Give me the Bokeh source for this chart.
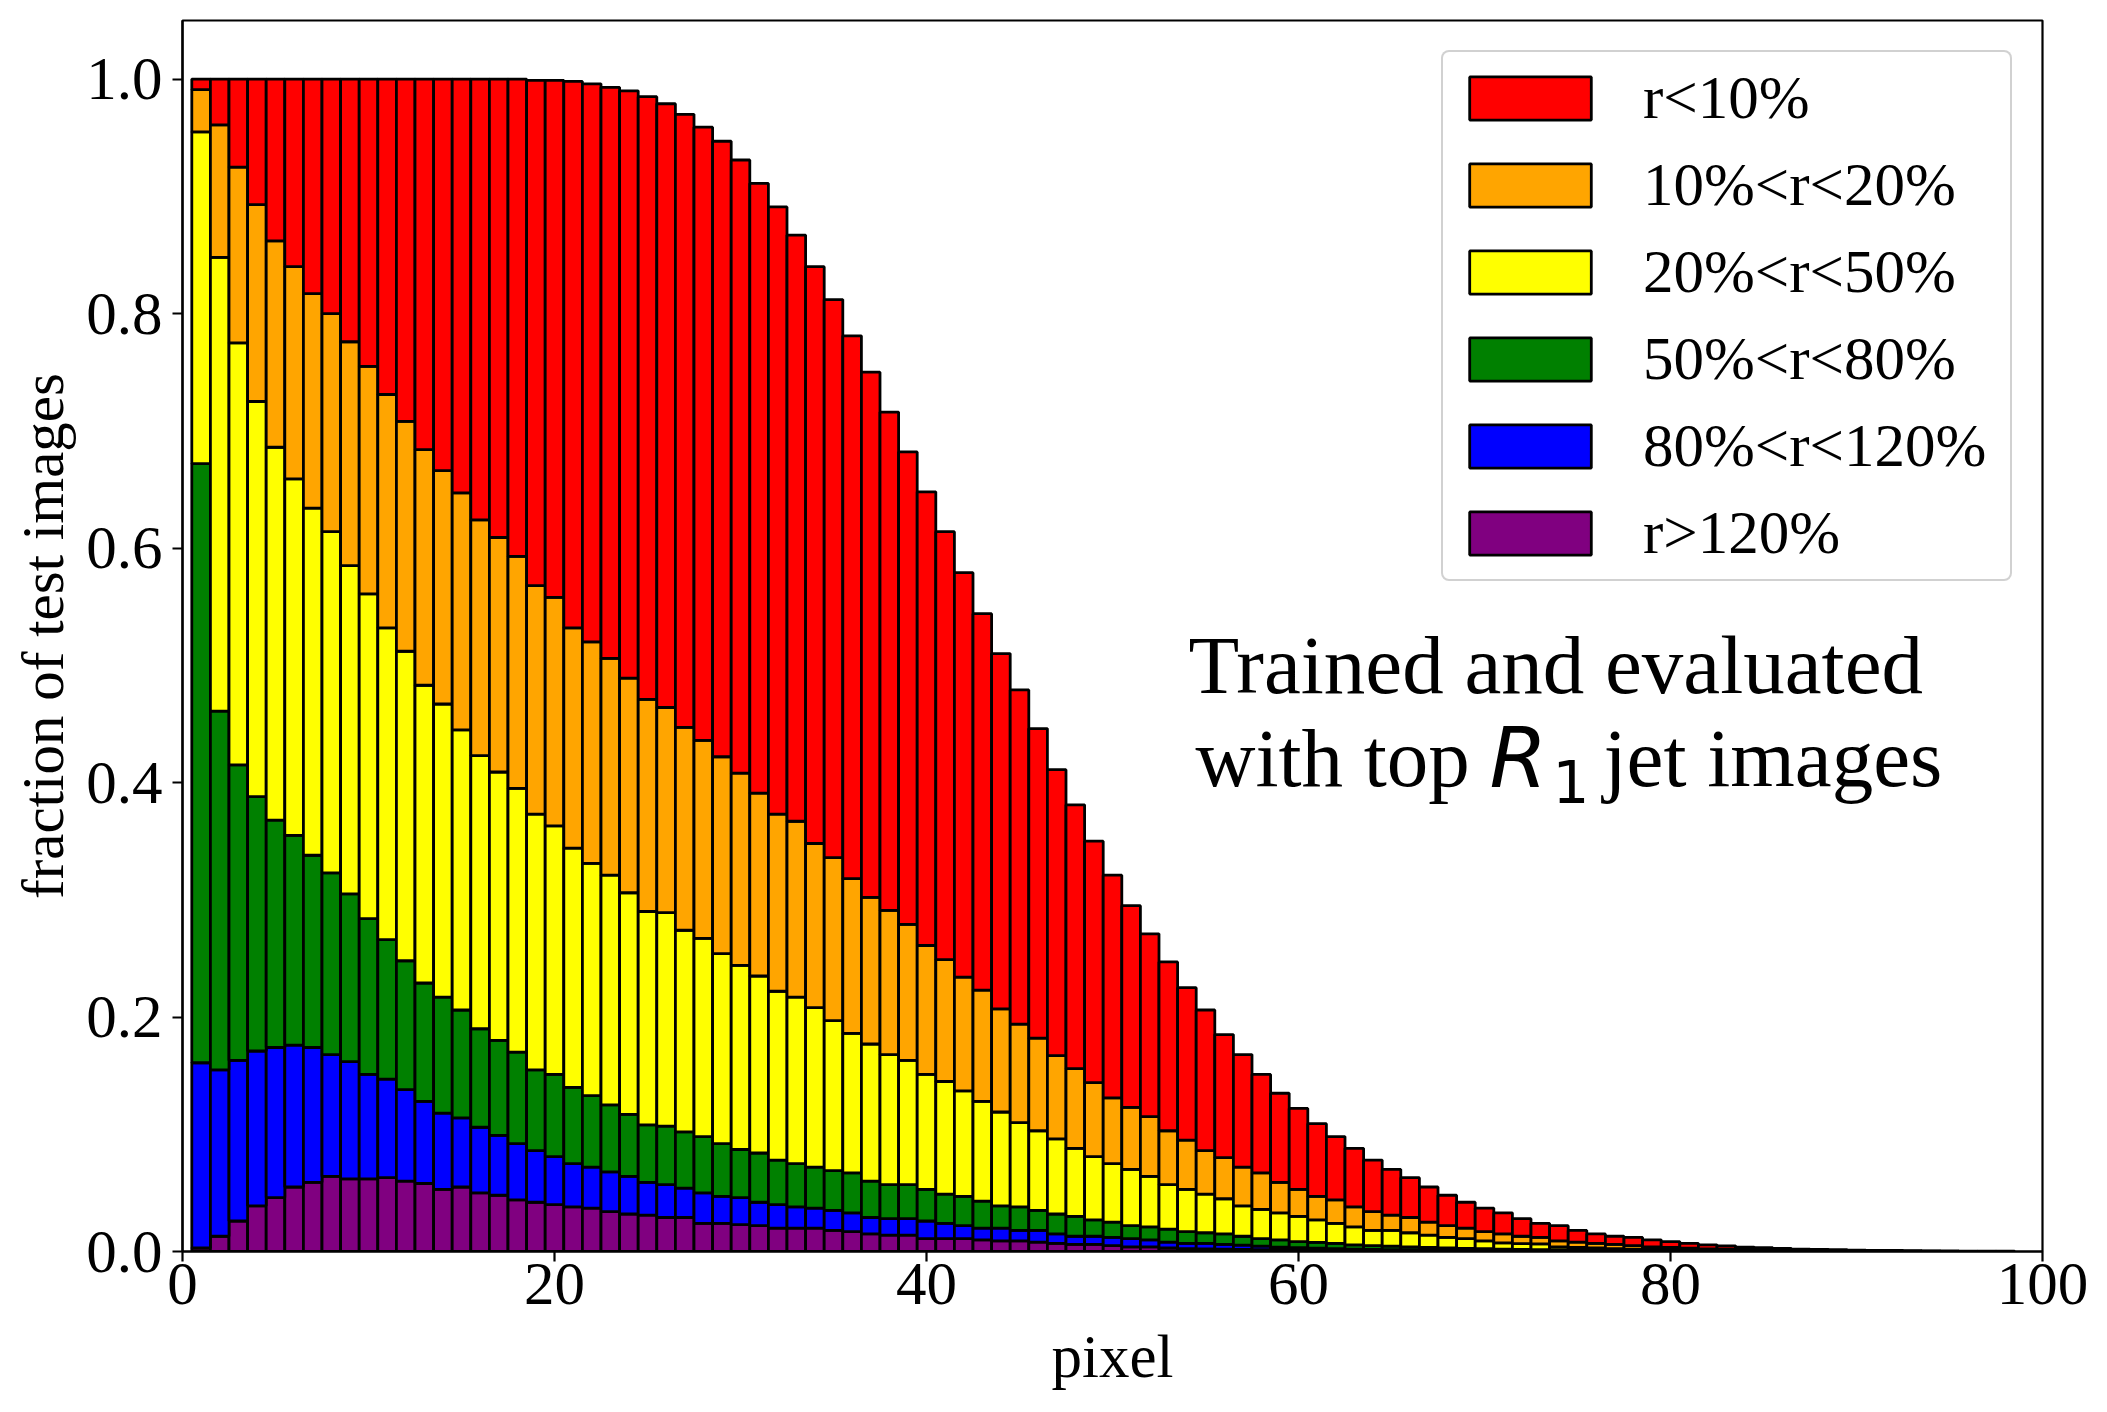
from bokeh.plotting import figure
from bokeh.models import (ColumnDataSource, Range1d, FixedTicker, PrintfTickFormatter,
                          Legend, LegendItem, Label)
from bokeh.embed import file_html
from bokeh.resources import INLINE

# pixel bins (bar centres)
pixel = list(range(1, 99))

# cumulative fraction of test images (stack tops) for each category
top_gt120 = [0.003, 0.013, 0.026, 0.039, 0.046, 0.055, 0.059, 0.064, 0.062, 0.062,
             0.063, 0.060, 0.058, 0.053, 0.055, 0.050, 0.048, 0.044, 0.042, 0.040,
             0.038, 0.037, 0.034, 0.032, 0.031, 0.029, 0.029, 0.024, 0.024, 0.023,
             0.022, 0.020, 0.020, 0.020, 0.018, 0.017, 0.015, 0.014, 0.014, 0.011,
             0.011, 0.011, 0.010, 0.009, 0.009, 0.008, 0.007, 0.006, 0.006, 0.005,
             0.004, 0.004, 0.003, 0.0025, 0.0022, 0.002, 0.0018, 0.0016, 0.0014, 0.0012,
             0.001, 0.0009, 0.0008, 0.0007, 0.0006, 0.0005, 0.0005, 0.0004, 0.0004, 0.0003,
             0.0003, 0.0002, 0.0002, 0.0002, 0.0001, 0.0001, 0.0001, 0.0001, 0.0001, 0.0,
             0, 0, 0, 0, 0, 0, 0, 0, 0, 0,
             0, 0, 0, 0, 0, 0, 0, 0]
top_80_120 = [0.161, 0.155, 0.163, 0.171, 0.174, 0.176, 0.174, 0.168, 0.162, 0.151,
              0.147, 0.138, 0.128, 0.118, 0.114, 0.106, 0.099, 0.092, 0.086, 0.081,
              0.075, 0.072, 0.068, 0.064, 0.059, 0.057, 0.054, 0.050, 0.047, 0.046,
              0.042, 0.040, 0.038, 0.037, 0.035, 0.033, 0.029, 0.028, 0.028, 0.026,
              0.024, 0.022, 0.020, 0.020, 0.018, 0.018, 0.015, 0.013, 0.013, 0.012,
              0.011, 0.010, 0.008, 0.007, 0.007, 0.006, 0.0055, 0.0045, 0.0038, 0.0032,
              0.0028, 0.0024, 0.002, 0.0018, 0.0015, 0.0013, 0.0011, 0.001, 0.0009, 0.0008,
              0.0007, 0.0006, 0.0005, 0.0005, 0.0004, 0.0003, 0.0003, 0.0002, 0.0002, 0.0002,
              0.0001, 0.0001, 0.0001, 0.0001, 0.0001, 0, 0, 0, 0, 0,
              0, 0, 0, 0, 0, 0, 0, 0]
top_50_80 = [0.672, 0.461, 0.415, 0.388, 0.368, 0.355, 0.338, 0.323, 0.305, 0.284,
             0.266, 0.248, 0.229, 0.217, 0.206, 0.190, 0.180, 0.170, 0.155, 0.151,
             0.140, 0.133, 0.125, 0.117, 0.108, 0.107, 0.102, 0.098, 0.092, 0.087,
             0.084, 0.078, 0.075, 0.072, 0.069, 0.067, 0.060, 0.057, 0.057, 0.053,
             0.049, 0.047, 0.043, 0.039, 0.038, 0.035, 0.032, 0.030, 0.027, 0.025,
             0.022, 0.021, 0.019, 0.017, 0.016, 0.015, 0.013, 0.011, 0.010, 0.0085,
             0.0077, 0.007, 0.0057, 0.005, 0.0045, 0.004, 0.0035, 0.003, 0.0027, 0.0024,
             0.002, 0.0018, 0.0016, 0.0014, 0.0012, 0.001, 0.0009, 0.0008, 0.0006, 0.0005,
             0.0004, 0.0004, 0.0003, 0.0003, 0.0002, 0.0002, 0.0001, 0.0001, 0.0001, 0.0001,
             0, 0, 0, 0, 0, 0, 0, 0]
top_20_50 = [0.955, 0.848, 0.775, 0.725, 0.686, 0.659, 0.634, 0.614, 0.585, 0.561,
             0.532, 0.512, 0.483, 0.467, 0.445, 0.423, 0.409, 0.395, 0.373, 0.363,
             0.344, 0.331, 0.321, 0.306, 0.290, 0.289, 0.274, 0.267, 0.254, 0.244,
             0.235, 0.222, 0.217, 0.208, 0.197, 0.186, 0.177, 0.168, 0.163, 0.151,
             0.145, 0.137, 0.128, 0.119, 0.110, 0.103, 0.096, 0.088, 0.081, 0.075,
             0.070, 0.064, 0.057, 0.053, 0.049, 0.045, 0.039, 0.036, 0.033, 0.030,
             0.027, 0.024, 0.021, 0.018, 0.018, 0.016, 0.014, 0.012, 0.011, 0.009,
             0.0074, 0.0068, 0.0065, 0.004, 0.0035, 0.003, 0.0025, 0.002, 0.0018, 0.0015,
             0.0012, 0.001, 0.0008, 0.0007, 0.0006, 0.0005, 0.0004, 0.0003, 0.0002, 0.0002,
             0.0001, 0.0001, 0.0001, 0, 0, 0, 0, 0]
top_10_20 = [0.991, 0.961, 0.925, 0.893, 0.862, 0.840, 0.817, 0.800, 0.776, 0.755,
             0.731, 0.708, 0.684, 0.666, 0.647, 0.624, 0.609, 0.593, 0.568, 0.558,
             0.532, 0.520, 0.506, 0.489, 0.471, 0.464, 0.447, 0.436, 0.422, 0.408,
             0.391, 0.373, 0.367, 0.348, 0.336, 0.318, 0.302, 0.291, 0.279, 0.261,
             0.249, 0.234, 0.223, 0.207, 0.194, 0.182, 0.167, 0.156, 0.144, 0.131,
             0.123, 0.115, 0.103, 0.095, 0.086, 0.080, 0.072, 0.067, 0.059, 0.053,
             0.047, 0.044, 0.038, 0.034, 0.031, 0.029, 0.025, 0.022, 0.020, 0.017,
             0.015, 0.013, 0.012, 0.009, 0.008, 0.007, 0.006, 0.005, 0.004, 0.0034,
             0.0028, 0.0023, 0.0019, 0.0015, 0.0013, 0.001, 0.0008, 0.0007, 0.0005, 0.0004,
             0.0003, 0.0003, 0.0002, 0.0002, 0.0001, 0.0001, 0.0001, 0]
top_lt10 = [1.0, 1.0, 1.0, 1.0, 1.0, 1.0, 1.0, 1.0, 1.0, 1.0,
            1.0, 1.0, 1.0, 1.0, 1.0, 1.0, 1.0, 1.0, 0.999, 0.999,
            0.998, 0.996, 0.993, 0.990, 0.985, 0.979, 0.970, 0.959, 0.947, 0.931,
            0.911, 0.891, 0.867, 0.840, 0.812, 0.781, 0.750, 0.716, 0.682, 0.648,
            0.614, 0.579, 0.544, 0.510, 0.479, 0.446, 0.411, 0.381, 0.350, 0.321,
            0.295, 0.271, 0.247, 0.225, 0.206, 0.185, 0.168, 0.151, 0.135, 0.122,
            0.109, 0.098, 0.088, 0.078, 0.070, 0.063, 0.055, 0.048, 0.042, 0.037,
            0.033, 0.028, 0.024, 0.022, 0.018, 0.015, 0.013, 0.012, 0.010, 0.0085,
            0.007, 0.0057, 0.0048, 0.0038, 0.0032, 0.0026, 0.0021, 0.0018, 0.0015, 0.0012,
            0.001, 0.0009, 0.0007, 0.0006, 0.0005, 0.0004, 0.0003, 0.0002]

labels = ["r<10%", "10%<r<20%", "20%<r<50%", "50%<r<80%", "80%<r<120%", "r>120%"]
colors = ["red", "orange", "yellow", "green", "blue", "purple"]
x_ticks = [0, 20, 40, 60, 80, 100]
y_ticks = [0.0, 0.2, 0.4, 0.6, 0.8, 1.0]

zeros = [0.0] * len(pixel)
src = ColumnDataSource(dict(x=pixel, z=zeros, p=top_gt120, b=top_80_120, g=top_50_80,
                            y=top_20_50, o=top_10_20, r=top_lt10))

SERIF = "Liberation Serif"
FS = "61px"

p = figure(width=2099, height=1404, output_backend="svg", toolbar_location=None,
           x_range=Range1d(0, 100), y_range=Range1d(0, 1.05),
           min_border_left=182, min_border_right=57, min_border_top=20, min_border_bottom=153)
p.background_fill_color = "white"
p.border_fill_color = "white"
p.grid.visible = False
p.outline_line_color = "black"
p.outline_line_width = 2.2

# stacked bars, drawn bottom to top
stack = [("z", "p", "purple"), ("p", "b", "blue"), ("b", "g", "green"),
         ("g", "y", "yellow"), ("y", "o", "orange"), ("o", "r", "red")]
rend = {}
for bot, top, col in stack:
    rend[col] = p.vbar(x="x", width=1.0, bottom=bot, top=top, source=src,
                       fill_color=col, line_color="black", line_width=2.8)

items = [LegendItem(label=lab, renderers=[rend[c]]) for lab, c in zip(labels, colors)]
leg = Legend(items=items, location="top_right", margin=30,
             label_text_font=SERIF, label_text_font_size=FS, label_text_color="black",
             glyph_width=152, glyph_height=54, label_standoff=37, label_width=356,
             spacing=17, padding=11,
             border_line_color="#cccccc", border_line_width=2.5, border_line_alpha=0.9,
             background_fill_color="white", background_fill_alpha=0.8)
if "border_radius" in Legend.properties():
    leg.border_radius = 8
p.add_layout(leg)

for ax in (p.xaxis, p.yaxis):
    ax.axis_line_width = 2.2
    ax.axis_line_color = "black"
    ax.major_tick_line_width = 2.2
    ax.major_tick_line_color = "black"
    ax.major_tick_out = 10
    ax.major_tick_in = 0
    ax.minor_tick_line_color = None
    ax.major_label_text_font = SERIF
    ax.major_label_text_font_size = FS
    ax.major_label_text_color = "black"
    ax.axis_label_text_font = SERIF
    ax.axis_label_text_font_size = FS
    ax.axis_label_text_font_style = "normal"
    ax.axis_label_text_color = "black"

p.xaxis.ticker = FixedTicker(ticks=x_ticks)
p.yaxis.ticker = FixedTicker(ticks=y_ticks)
p.yaxis.formatter = PrintfTickFormatter(format="%.1f")
p.xaxis.axis_label = "pixel"
p.yaxis.axis_label = "fraction of test images"
p.yaxis.axis_label_text_font_size = "59px"
p.xaxis.major_label_standoff = 2
p.xaxis.axis_label_standoff = 16
p.yaxis.major_label_standoff = 10
p.yaxis.axis_label_standoff = 7

# annotation text placed by pixel position inside the reference frame
F_LEFT, F_BOTTOM, PX_X, PX_Y = 182.0, 1251.0, 18.6, 1173.0
def dx(px):
    return (px - F_LEFT) / PX_X
def dy(py):
    return (F_BOTTOM - py) / PX_Y

# (text, left px, baseline px, font, style, size px)
notes = [
    ("Trained and evaluated", 1188, 692, SERIF, "normal", 83),
    ("with top", 1195, 785, SERIF, "normal", 83),
    ("R", 1489, 785, "DejaVu Sans", "italic", 83),
    ("1", 1552, 800, "DejaVu Sans", "normal", 58),
    ("jet images", 1603, 785, SERIF, "normal", 83),
]
for txt, px, py, font, style, size in notes:
    p.add_layout(Label(x=dx(px), y=dy(py - 0.33 * size), text=txt, text_font=font,
                       text_font_style=style, text_font_size=f"{size}px",
                       text_baseline="alphabetic", text_align="left", text_color="black"))

open("out.html", "w").write(file_html(p, INLINE))
